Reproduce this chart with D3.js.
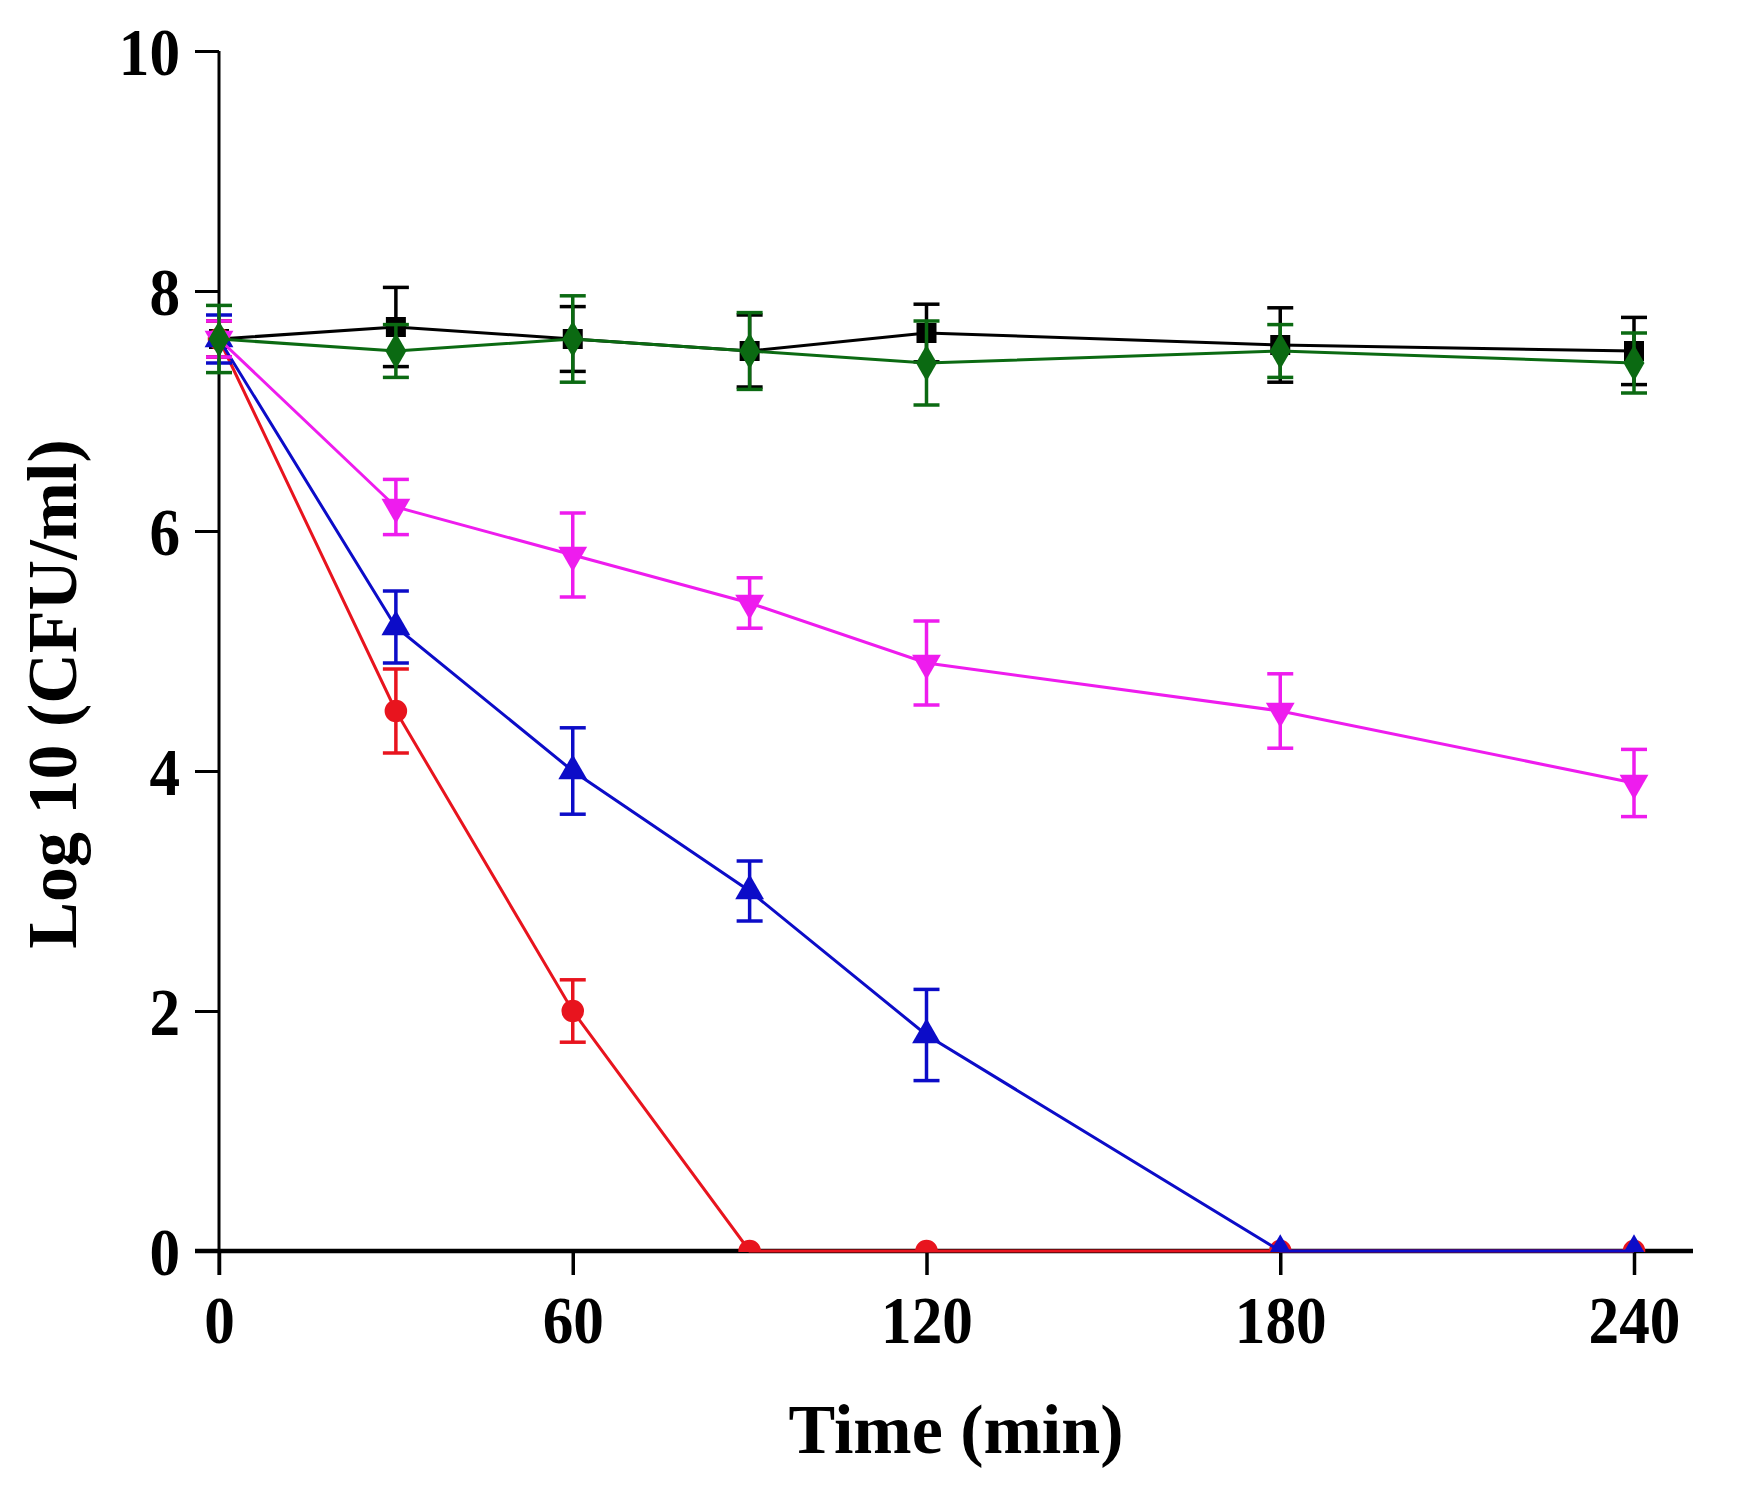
<!DOCTYPE html>
<html>
<head>
<meta charset="utf-8">
<script src="https://cdn.jsdelivr.net/npm/d3@7"></script>
<style>
  html, body { margin: 0; padding: 0; background: #fff; }
  svg { display: block; }
  text { font-family: "Liberation Serif", "Times New Roman", serif; font-weight: bold; fill: #000; }
</style>
</head>
<body>
<svg id="chart" width="1740" height="1486"></svg>
<script>
// ---- data ----
const times = [0, 30, 60, 90, 120, 180, 240];

const controlVals = [7.6, 7.7, 7.6, 7.5, 7.65, 7.55, 7.5];
const controlErr  = [0.15, 0.33, 0.27, 0.3, 0.24, 0.31, 0.28];

const greenVals = [7.6, 7.5, 7.6, 7.5, 7.4, 7.5, 7.4];
const greenErr  = [0.28, 0.22, 0.36, 0.32, 0.35, 0.22, 0.25];

const magentaVals = [7.6, 6.2, 5.8, 5.4, 4.9, 4.5, 3.9];
const magentaErr  = [0.15, 0.23, 0.35, 0.21, 0.35, 0.31, 0.28];

const blueVals = [7.6, 5.2, 4.0, 3.0, 1.8, 0, 0];
const blueErr  = [0.2, 0.3, 0.36, 0.25, 0.38, 0, 0];

const redVals = [7.6, 4.5, 2.0, 0, 0, 0, 0];
const redErr  = [0.15, 0.35, 0.26, 0, 0, 0, 0];

const xTicks = [0, 60, 120, 180, 240];
const yTicks = [0, 2, 4, 6, 8, 10];
const xTitle = "Time (min)";
const yTitle = "Log 10 (CFU/ml)";

// ---- series styling (drawing order: later on top) ----
const series = [
  { vals: controlVals, err: controlErr, color: "#000000", symbol: d3.symbolSquare,   size: 400, rot: 0 },
  { vals: redVals,     err: redErr,     color: "#e8141e", symbol: d3.symbolCircle,   size: 400, rot: 0 },
  { vals: blueVals,    err: blueErr,    color: "#0c0cc8", symbol: d3.symbolTriangle, size: 360, rot: 0 },
  { vals: magentaVals, err: magentaErr, color: "#ee1cee", symbol: d3.symbolTriangle, size: 360, rot: 180 },
  { vals: greenVals,   err: greenErr,   color: "#0b6a12", symbol: d3.symbolDiamond,  size: 380, rot: 0 }
];

const svg = d3.select("#chart");
svg.append("rect").attr("width", 1740).attr("height", 1486).attr("fill", "#fff");

const x = d3.scaleLinear().domain([0, 240]).range([219, 1634]);
const y = d3.scaleLinear().domain([0, 10]).range([1251, 51]);

const SQ = 0.9; // horizontal squash of the narrow bold serif digits

// ---- axes ----
const axG = svg.append("g");
// y axis line (extends slightly below x axis)
axG.append("line")
  .attr("x1", x(0)).attr("x2", x(0))
  .attr("y1", y(10)).attr("y2", y(0) + 24)
  .attr("stroke", "#000").attr("stroke-width", 3);
// x axis line
axG.append("line")
  .attr("x1", x(0) - 24).attr("x2", 1693)
  .attr("y1", y(0)).attr("y2", y(0))
  .attr("stroke", "#000").attr("stroke-width", 4.5);

const yAxis = d3.axisLeft(y).tickValues(yTicks).tickSize(24).tickFormat(d3.format("d"));
const yg = axG.append("g").attr("transform", `translate(${x(0)},0)`).call(yAxis);
yg.select(".domain").remove();
yg.selectAll(".tick line").attr("stroke", "#000").attr("stroke-width", 3);
yg.selectAll(".tick text")
  .attr("x", null).attr("dy", null)
  .attr("transform", `translate(-39,23) scale(${SQ},1)`)
  .attr("text-anchor", "end")
  .style("font-size", "68px")
  .style("font-family", "'Liberation Serif', 'Times New Roman', serif")
  .style("font-weight", "bold")
  .attr("fill", "#000");

const xAxis = d3.axisBottom(x).tickValues(xTicks).tickSize(24).tickFormat(d3.format("d"));
const xg = axG.append("g").attr("transform", `translate(0,${y(0)})`).call(xAxis);
xg.select(".domain").remove();
xg.selectAll(".tick line").attr("stroke", "#000").attr("stroke-width", 3.5);
xg.selectAll(".tick text")
  .attr("y", null).attr("dy", null)
  .attr("transform", `translate(0,92) scale(${SQ},1)`)
  .attr("text-anchor", "middle")
  .style("font-size", "68px")
  .style("font-family", "'Liberation Serif', 'Times New Roman', serif")
  .style("font-weight", "bold")
  .attr("fill", "#000");

// axis titles
svg.append("text")
  .attr("x", 956).attr("y", 1453)
  .attr("text-anchor", "middle")
  .style("font-size", "70px")
  .text(xTitle);

svg.append("text")
  .attr("transform", "translate(76,694) rotate(-90)")
  .attr("text-anchor", "middle")
  .style("font-size", "70px")
  .text(yTitle);

// ---- clip for markers/error bars (nothing below the x axis) ----
svg.append("defs").append("clipPath").attr("id", "plotclip")
  .append("rect").attr("x", 150).attr("y", 0).attr("width", 1590).attr("height", y(0) + 1);

const line = d3.line().x(d => x(d.t)).y(d => y(d.v));
const dataG = svg.append("g");

series.forEach(s => {
  const pts = times.map((t, i) => ({ t: t, v: s.vals[i], e: s.err[i] }));
  const g = dataG.append("g");
  // connecting line
  g.append("path").datum(pts)
    .attr("d", line)
    .attr("fill", "none")
    .attr("stroke", s.color)
    .attr("stroke-width", 3);
  const cg = g.append("g").attr("clip-path", "url(#plotclip)");
  // error bars
  const eb = cg.selectAll("g.eb").data(pts.filter(d => d.e > 0)).enter().append("g");
  eb.append("line")
    .attr("x1", d => x(d.t)).attr("x2", d => x(d.t))
    .attr("y1", d => y(d.v + d.e)).attr("y2", d => y(d.v - d.e))
    .attr("stroke", s.color).attr("stroke-width", 3.5);
  [1, -1].forEach(sign => {
    eb.append("line")
      .attr("x1", d => x(d.t) - 13).attr("x2", d => x(d.t) + 13)
      .attr("y1", d => y(d.v + sign * d.e)).attr("y2", d => y(d.v + sign * d.e))
      .attr("stroke", s.color).attr("stroke-width", 3.5);
  });
  // markers
  cg.selectAll("path.m").data(pts).enter().append("path")
    .attr("d", d3.symbol().type(s.symbol).size(s.size))
    .attr("transform", d => `translate(${x(d.t)},${y(d.v)}) rotate(${s.rot})`)
    .attr("fill", s.color);
});
</script>
</body>
</html>
